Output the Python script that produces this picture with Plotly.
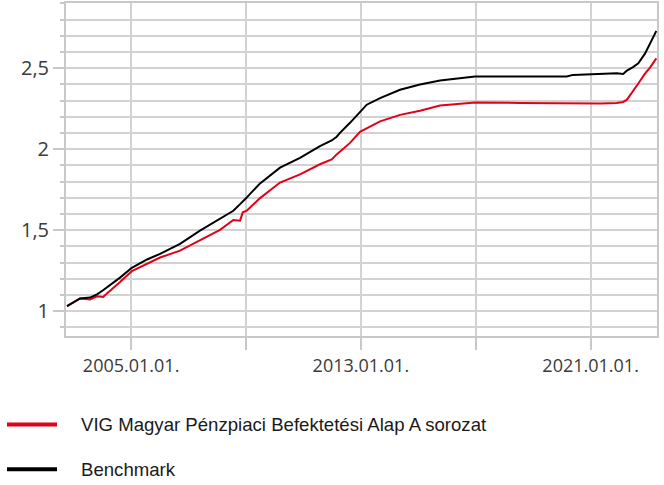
import plotly.graph_objects as go

dates = ["2002-10-09", "2003-03-24", "2003-07-28", "2003-10-25", "2004-01-10", "2004-03-01",
         "2004-08-13", "2005-01-10", "2005-07-23", "2006-01-04", "2006-09-15", "2007-05-27",
         "2008-02-06", "2008-07-24", "2008-10-18", "2008-11-21", "2009-01-11", "2009-02-22",
         "2009-06-29", "2010-03-10", "2010-11-19", "2011-07-31", "2011-12-27", "2012-02-28",
         "2012-04-10", "2012-08-16", "2012-12-21", "2013-03-17", "2013-09-02", "2014-05-14",
         "2015-01-23", "2015-10-05", "2016-12-23", "2018-07-18", "2020-03-03", "2020-05-22",
         "2021-05-01", "2021-11-29", "2022-02-18", "2022-04-08", "2022-06-24", "2022-08-30",
         "2022-11-23", "2023-01-26", "2023-04-17"]

fund = [1.031, 1.078, 1.072, 1.092, 1.088, 1.109,
        1.180, 1.247, 1.295, 1.331, 1.374, 1.436,
        1.502, 1.563, 1.559, 1.610, 1.620, 1.640,
        1.698, 1.794, 1.845, 1.907, 1.937, 1.968,
        1.985, 2.039, 2.107, 2.129, 2.172, 2.212,
        2.238, 2.270, 2.289, 2.286, 2.283, 2.283,
        2.283, 2.285, 2.292, 2.306, 2.357, 2.406,
        2.467, 2.504, 2.561]

benchmark = [1.031, 1.078, 1.084, 1.104, 1.129, 1.147,
             1.207, 1.268, 1.319, 1.354, 1.416, 1.497,
             1.569, 1.620, 1.661, 1.675, 1.702, 1.724,
             1.789, 1.886, 1.947, 2.019, 2.054, 2.077,
             2.101, 2.163, 2.229, 2.275, 2.316, 2.367,
             2.400, 2.425, 2.449, 2.449, 2.449, 2.459,
             2.464, 2.469, 2.465, 2.486, 2.507, 2.530,
             2.590, 2.653, 2.731]

series_names = ["VIG Magyar Pénzpiaci Befektetési Alap A sorozat", "Benchmark"]
series_colors = ["#e2001a", "#000000"]

x_tickvals = ["2005-01-01", "2009-01-01", "2013-01-01", "2017-01-01", "2021-01-01"]
x_ticktext = ["2005.01.01.", "", "2013.01.01.", "", "2021.01.01."]

grid = "#d2d2d2"
axisc = "#c8c8c8"

fig = go.Figure()
fig.add_trace(go.Scatter(x=dates, y=fund, mode="lines", name=series_names[0],
                         line=dict(color=series_colors[0], width=2), showlegend=False))
fig.add_trace(go.Scatter(x=dates, y=benchmark, mode="lines", name=series_names[1],
                         line=dict(color=series_colors[1], width=2), showlegend=False))

# manual legend (paper coordinates)
PL, PR, PT, PB = 66, 657, 1, 336
def px(xpx):
    return (xpx - PL) / (PR - PL)
def py(ypx):
    return (PB - ypx) / (PB - PT)

legend_y = [425, 470]
for name, color, yy in zip(series_names, series_colors, legend_y):
    fig.add_shape(type="line", xref="paper", yref="paper",
                  x0=px(7), x1=px(57), y0=py(yy), y1=py(yy),
                  line=dict(color=color, width=4))
    fig.add_annotation(xref="paper", yref="paper", x=px(79), y=py(yy),
                       xanchor="left", yanchor="middle", showarrow=False,
                       text=name, font=dict(family="Liberation Sans, Arial", size=18.6, color="#1a1a1a"))

fig.update_layout(
    width=664, height=485,
    margin=dict(l=PL, r=664 - PR, t=PT, b=485 - PB),
    paper_bgcolor="white", plot_bgcolor="white",
    separators=", ",
    font=dict(family="Open Sans", color="#3a3a3a"),
    xaxis=dict(
        type="date",
        range=["2002-09-26", "2023-04-25"],
        tickmode="array", tickvals=x_tickvals, ticktext=x_ticktext,
        showgrid=True, gridcolor=grid, gridwidth=2,
        ticks="outside", ticklen=12, tickwidth=2, tickcolor=axisc,
        showline=True, linecolor=axisc, linewidth=2, mirror=True,
        tickfont=dict(size=18, family="Open Sans", color="#3a3a3a"),
        zeroline=False,
    ),
    yaxis=dict(
        range=[0.8465, 2.903],
        tick0=0, dtick=0.5,
        showgrid=True, gridcolor=grid, gridwidth=2,
        ticks="outside", ticklen=11, tickwidth=2, tickcolor=axisc,
        showline=True, linecolor=axisc, linewidth=2, mirror=True,
        tickfont=dict(size=20, family="Open Sans", color="#3a3a3a"),
        zeroline=False,
        minor=dict(dtick=0.1, tick0=0, showgrid=True, gridcolor=grid, gridwidth=2,
                   ticks="outside", ticklen=4, tickwidth=2, tickcolor=axisc),
    ),
)

fig.write_html("out.html", config={"displayModeBar": False},
               post_script="document.body.style.margin='0';document.body.style.overflow='hidden';")
